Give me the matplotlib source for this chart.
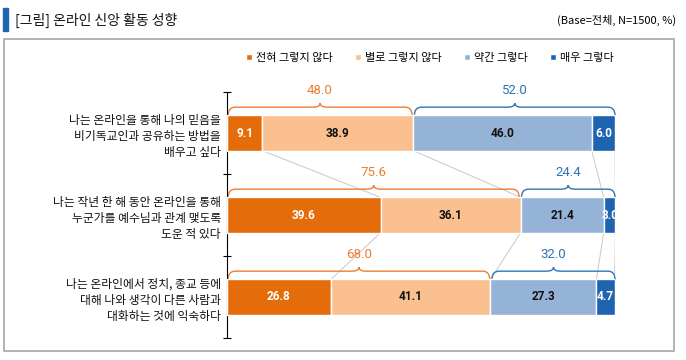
import matplotlib
matplotlib.use("Agg")
import matplotlib.pyplot as plt
from matplotlib.path import Path
from matplotlib.patches import PathPatch, Rectangle
import numpy as np

plt.rcParams['font.family'] = ['Noto Sans CJK KR', 'DejaVu Sans']

# data
categories = [
    "나는 온라인을 통해 나의 믿음을\n비기독교인과 공유하는 방법을\n배우고 싶다",
    "나는 작년 한 해 동안 온라인을 통해\n누군가를 예수님과 관계 맺도록\n도운 적 있다",
    "나는 온라인에서 정치, 종교 등에\n대해 나와 생각이 다른 사람과\n대화하는 것에 익숙하다",
]
series_names = ["전혀 그렇지 않다", "별로 그렇지 않다", "약간 그렇다", "매우 그렇다"]
not_at_all = [9.1, 39.6, 26.8]
not_really = [38.9, 36.1, 41.1]
somewhat = [46.0, 21.4, 27.3]
very = [6.0, 3.0, 4.7]
neg_total = [48.0, 75.6, 68.0]
pos_total = [52.0, 24.4, 32.0]

colors = ["#E46C0A", "#FAC090", "#95B3D7", "#1F64B0"]
text_colors = ["white", "#111111", "#111111", "white"]
orange = "#ED7D31"
blue = "#2E75B6"
num_font = ["Roboto", "DejaVu Sans"]

fig = plt.figure(figsize=(6.86, 3.6), dpi=100)
W, H = 686, 360

# header
fig.patches.append(Rectangle((3 / W, 1 - 31 / H), 5 / W, 23 / H, transform=fig.transFigure,
                             color="#1F64B0", zorder=5))
fig.text(15 / W, 1 - 20 / H, "[그림] 온라인 신앙 활동 성향", fontsize=10, va="center",
         ha="left", color="#111111")
fig.text(676 / W, 1 - 20 / H, "(Base=전체, N=1500, %)", fontsize=8, va="center", ha="right")
fig.patches.append(Rectangle((4 / W, 1 - 351 / H), 670 / W, 312 / H, transform=fig.transFigure,
                             fill=False, edgecolor="#A6A6A6", linewidth=1.2))

ax = fig.add_axes([227 / W, 1 - 338 / H, 388 / W, 246 / H])

series = [not_at_all, not_really, somewhat, very]
y = np.arange(len(categories))
bh = 0.43
lefts = np.zeros(len(categories))
bounds = [lefts.copy()]
for i, vals in enumerate(series):
    vals = np.array(vals)
    ax.barh(y, vals, left=lefts, height=bh, color=colors[i], edgecolor="white",
            linewidth=1, label=series_names[i], zorder=3)
    for j, v in enumerate(vals):
        ax.text(lefts[j] + v / 2, y[j], f"{v:.1f}", ha="center", va="center",
                fontsize=8.5, fontweight="bold", color=text_colors[i], zorder=4,
                family=num_font)
    lefts = lefts + vals
    bounds.append(lefts.copy())

# connector lines between bars
for j in range(len(categories) - 1):
    for b in bounds[1:]:
        ax.plot([b[j], b[j + 1]], [y[j] + bh / 2, y[j + 1] - bh / 2], color="#C8C8C8",
                linewidth=0.7, zorder=1)


def brace(x0, x1, ybar, color):
    top = ybar - bh / 2
    hy = top - 0.1
    r = 1.8
    xm = (x0 + x1) / 2
    verts = [(x0, top), (x0, hy), (x0 + r, hy), (xm - r, hy), (xm, hy), (xm, hy - 0.05),
             (xm, hy), (xm + r, hy), (x1 - r, hy), (x1, hy), (x1, top)]
    codes = [Path.MOVETO, Path.CURVE3, Path.CURVE3, Path.LINETO, Path.CURVE3, Path.CURVE3,
             Path.CURVE3, Path.CURVE3, Path.LINETO, Path.CURVE3, Path.CURVE3]
    ax.add_patch(PathPatch(Path(verts, codes), fill=False, edgecolor=color, linewidth=1,
                           clip_on=False, zorder=2))
    return xm, hy


for j in range(len(categories)):
    xm, hy = brace(0.3, neg_total[j] - 0.3, y[j], orange)
    ax.text(xm, hy - 0.2, f"{neg_total[j]:.1f}", color=orange, fontsize=9.5, ha="center",
            va="center", family=num_font)
    xm, hy = brace(neg_total[j] + 0.3, 100, y[j], blue)
    ax.text(xm, hy - 0.2, f"{pos_total[j]:.1f}", color=blue, fontsize=9.5, ha="center",
            va="center", family=num_font)

ax.set_xlim(0, 100)
ax.set_ylim(2.5, -0.5)
ax.set_yticks([-0.5, 0.5, 1.5, 2.5])
ax.set_yticklabels([])
ax.tick_params(axis="y", direction="inout", length=6, width=0.8)
for j, c in enumerate(categories):
    ax.text(-1.6, y[j] + 0.04, c, ha="right", va="center", fontsize=8.5, linespacing=1.3,
            color="#111111")
ax.set_xticks([])
for s in ["top", "right", "bottom"]:
    ax.spines[s].set_visible(False)
ax.spines["left"].set_linewidth(0.8)

fig.legend(loc="center", bbox_to_anchor=(430 / W, 1 - 58 / H), ncol=4, frameon=False,
           handlelength=0.55, handleheight=0.55, handletextpad=0.35,
           columnspacing=2.0, prop={"size": 8})

fig.savefig("out.png", dpi=100)
